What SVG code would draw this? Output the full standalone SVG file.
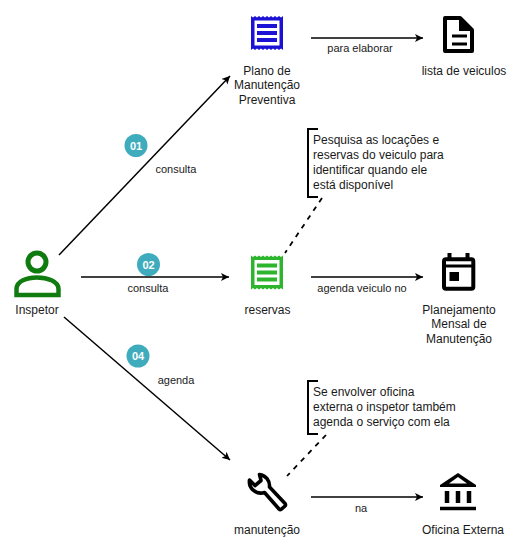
<svg xmlns="http://www.w3.org/2000/svg" width="519" height="556" viewBox="0 0 519 556">
<style>
text{font-family:"Liberation Sans",Arial,sans-serif;fill:#1a1a1a}
.l{font-size:12px;text-anchor:middle}
.e{font-size:11px;text-anchor:middle}
.n{font-size:12px}
.b{font-size:11px;font-weight:bold;text-anchor:middle;fill:#fff}
.c{fill:none;stroke:#000;stroke-width:1.5}
.d{fill:none;stroke:#000;stroke-width:1.8;stroke-dasharray:5 5.500}
.br{fill:none;stroke:#000;stroke-width:2}
.k{fill:none;stroke:#000;stroke-width:4}
</style>
<defs>
<marker id="a" markerUnits="userSpaceOnUse" markerWidth="10" markerHeight="10" refX="8" refY="4" orient="auto"><path d="M0 0L8 4L0 8L2 4Z" fill="#000"/></marker>
<path id="rc" d="M0 0l2 1.600 2-1.600 2 1.600 2-1.600 2 1.600 2-1.600 2 1.600 2-1.600 2 1.600 2-1.600 2 1.600 2-1.600 2 1.600 2-1.600 2 1.600 2-1.600V34l-2-1.600-2 1.600-2-1.600-2 1.600-2-1.600-2 1.600-2-1.600-2 1.600-2-1.600-2 1.600-2-1.600-2 1.600-2-1.600-2 1.600-2-1.600-2 1.600ZM3.500 4.500V29.500H28.500V4.500ZM6 8H26V11.900H6ZM6 15.100H26V19H6ZM6 22.100H26V26H6Z" fill-rule="evenodd"/>
</defs>
<g id="connectors">
<path class="c" marker-end="url(#a)" d="M59 255L230 76"/>
<path class="c" marker-end="url(#a)" d="M81 277H229"/>
<path class="c" marker-end="url(#a)" d="M64 317L230 460"/>
<path class="c" marker-end="url(#a)" d="M311 38H423"/>
<path class="c" marker-end="url(#a)" d="M311 277H423"/>
<path class="c" marker-end="url(#a)" d="M311 497H423"/>
<path class="d" d="M322 198L285 253"/>
<path class="d" d="M326 435L287 476"/>
<text class="e" x="176" y="173">consulta</text>
<text class="e" x="148" y="292">consulta</text>
<text class="e" x="176" y="384">agenda</text>
<text class="e" x="360" y="52">para elaborar</text>
<text class="e" x="362" y="292">agenda veiculo no</text>
<text class="e" x="361" y="512">na</text>
</g>
<g id="badge01"><circle cx="136" cy="145.500" r="11.500" fill="#3eacbd"/><text class="b" x="136" y="149.500">01</text></g>
<g id="badge02"><circle cx="148.500" cy="264.500" r="11.500" fill="#3eacbd"/><text class="b" x="148.500" y="268.500">02</text></g>
<g id="badge04"><circle cx="138" cy="356" r="11.500" fill="#3eacbd"/><text class="b" x="138" y="360">04</text></g>
<g id="inspetor">
<circle cx="37" cy="262" r="9" fill="none" stroke="#107c10" stroke-width="5"/>
<path d="M16.500 295V289C16.500 281 27 277.500 37 277.500S58.500 281 58.500 289V295Z" fill="none" stroke="#107c10" stroke-width="4.500"/>
<text class="l" x="37" y="314">Inspetor</text>
</g>
<g id="plano">
<use href="#rc" x="251" y="16" fill="#1c12d6"/>
<text class="l" x="267" y="75">Plano de</text><text class="l" x="267" y="89">Manutenção</text><text class="l" x="267" y="104">Preventiva</text>
</g>
<g id="reservas">
<use href="#rc" x="251" y="255.500" fill="#2db52d"/>
<text class="l" x="267.500" y="314">reservas</text>
</g>
<g id="manutencao">
<path d="M259.500 474.500A11.500 11.500 0 0 1 269.500 487L285 503.500Q286 505 285 506L281 509.500Q280 510 279 509L264.500 492.500A11.500 11.500 0 0 1 249.500 480L255 485.500L261 480.500Z" fill="none" stroke="#000" stroke-width="3.600" stroke-linejoin="round"/>
<text class="l" x="267" y="534">manutenção</text>
</g>
<g id="lista">
<path class="k" d="M445 18H460L472 30V51H445Z" stroke-linejoin="round"/>
<path d="M459 17V31H473Z" fill="#000"/>
<path d="M452 36H467M452 44H467" fill="none" stroke="#000" stroke-width="3"/>
<text class="l" x="464" y="75">lista de veiculos</text>
</g>
<g id="planejamento">
<rect class="k" x="444" y="259.300" width="29.300" height="29.500" rx="2"/>
<path d="M444 266H474" stroke="#000" stroke-width="3"/>
<path d="M449.500 253V259M467.500 253V259" stroke="#000" stroke-width="4"/>
<rect x="449.500" y="272" width="9.500" height="9"/>
<text class="l" x="459" y="314">Planejamento</text><text class="l" x="459" y="328">Mensal de</text><text class="l" x="459" y="343">Manutenção</text>
</g>
<g id="oficina">
<path d="M458 473L476 485V487H440V485Z" fill="#000"/>
<path d="M458 477L467 483.500H449Z" fill="#fff"/>
<path d="M447 491V503M458 491V503M469 491V503" stroke="#000" stroke-width="4.500"/>
<path d="M440 508.500H476" stroke="#000" stroke-width="3.500"/>
<text class="l" x="463" y="534">Oficina Externa</text>
</g>
<g id="nota1">
<path class="br" d="M318 129H308V197H318"/>
<text class="n" x="313" y="144">Pesquisa as locações e</text><text class="n" x="313" y="159">reservas do veiculo para</text><text class="n" x="313" y="174">identificar quando ele</text><text class="n" x="313" y="189">está disponível</text>
</g>
<g id="nota2">
<path class="br" d="M318 381H308V434H318"/>
<text class="n" x="313" y="396">Se envolver oficina</text><text class="n" x="313" y="411">externa o inspetor também</text><text class="n" x="313" y="426">agenda o serviço com ela</text>
</g>
</svg>
